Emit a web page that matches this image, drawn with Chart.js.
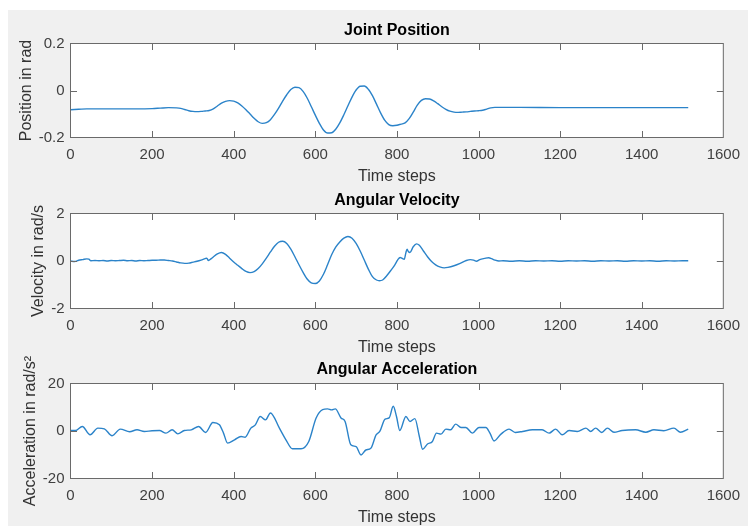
<!DOCTYPE html>
<html lang="en">
<head>
<meta charset="UTF-8">
<title>Joint Position / Angular Velocity / Angular Acceleration</title>
<script src="https://cdn.jsdelivr.net/npm/chart.js"></script>
<style>
  body { margin: 0; background: #fff; width: 748px; height: 526px; position: relative; overflow: hidden; }
  .figure { position: absolute; left: 8px; top: 10px; right: 0; bottom: 0; background: #f0f0f0; }
  canvas { position: absolute; left: 0; top: 0; }
</style>
</head>
<body>
<div class="figure"></div>
<canvas id="posChart" width="748" height="526"></canvas>
<canvas id="velChart" width="748" height="526"></canvas>
<canvas id="accChart" width="748" height="526"></canvas>

<script>
// tick labels
const xTicks = [0, 200, 400, 600, 800, 1000, 1200, 1400, 1600];
const positionTicks = [-0.2, 0, 0.2];
const velocityTicks = [-2, 0, 2];
const accelTicks = [-20, 0, 20];

// joint position (rad)
const positionSteps = [0, 20, 40, 100, 160, 200, 220, 240, 260, 270, 280, 290, 300, 310, 320, 330, 340, 350, 360, 370,
  380, 390, 400, 410, 420, 430, 440, 450, 460, 470, 480, 490, 500, 510, 520, 530, 540, 550, 560, 570,
  580, 590, 600, 610, 620, 630, 640, 650, 660, 670, 680, 690, 700, 710, 720, 730, 740, 750, 760, 770,
  780, 790, 800, 810, 820, 830, 840, 850, 860, 870, 880, 890, 900, 910, 920, 930, 940, 950, 960, 970,
  980, 990, 1000, 1010, 1020, 1030, 1040, 1100, 1200, 1300, 1400, 1514];
const position = [-0.082, -0.080, -0.078, -0.078, -0.078, -0.077, -0.075, -0.073, -0.074, -0.076, -0.081, -0.086, -0.089, -0.090, -0.089, -0.087, -0.085, -0.078, -0.066, -0.054,
  -0.046, -0.043, -0.045, -0.053, -0.066, -0.082, -0.100, -0.118, -0.133, -0.140, -0.137, -0.124, -0.102, -0.075, -0.045, -0.018, 0.004, 0.014, 0.012, -0.004,
  -0.032, -0.068, -0.105, -0.140, -0.168, -0.181, -0.180, -0.165, -0.138, -0.103, -0.065, -0.028, 0.002, 0.018, 0.019, 0.005, -0.022, -0.058, -0.095, -0.126,
  -0.145, -0.150, -0.148, -0.143, -0.138, -0.120, -0.092, -0.062, -0.042, -0.035, -0.036, -0.044, -0.056, -0.069, -0.080, -0.088, -0.092, -0.093, -0.092, -0.091,
  -0.089, -0.087, -0.086, -0.084, -0.079, -0.074, -0.072, -0.072, -0.073, -0.073, -0.073, -0.073];

// angular velocity (rad/s)
const velocitySteps = [0, 10, 20, 30, 40, 45, 50, 60, 70, 80, 90, 100, 110, 120, 130, 140, 150, 160, 170, 180,
  190, 200, 210, 220, 230, 240, 250, 260, 270, 280, 290, 300, 310, 320, 330, 334, 338, 345, 350, 360,
  370, 380, 390, 400, 410, 420, 430, 440, 450, 460, 470, 480, 490, 500, 510, 520, 530, 540, 550, 560,
  570, 580, 590, 600, 610, 620, 630, 640, 650, 660, 670, 680, 690, 700, 710, 720, 730, 740, 750, 757,
  765, 775, 785, 795, 802, 808, 812, 818, 822, 825, 828, 832, 840, 848, 855, 865, 875, 885, 895, 905,
  916, 925, 940, 955, 970, 980, 988, 995, 1003, 1015, 1025, 1032, 1040, 1050, 1060, 1080, 1100, 1120, 1140, 1160,
  1180, 1200, 1220, 1240, 1260, 1280, 1300, 1320, 1340, 1360, 1380, 1400, 1420, 1440, 1460, 1480, 1500, 1514];
const velocity = [0.00, -0.02, 0.03, 0.06, 0.09, 0.08, 0.01, 0.02, 0.01, 0.02, 0.00, 0.02, 0.01, 0.02, 0.03, 0.01, 0.02, 0.00, 0.02, 0.01,
  0.02, 0.03, 0.03, 0.04, 0.04, 0.02, 0.00, -0.04, -0.08, -0.10, -0.09, -0.05, -0.01, 0.04, 0.10, 0.12, 0.02, 0.10, 0.17, 0.30,
  0.36, 0.28, 0.12, -0.04, -0.18, -0.32, -0.44, -0.49, -0.45, -0.32, -0.12, 0.12, 0.38, 0.62, 0.79, 0.83, 0.74, 0.50, 0.18, -0.16,
  -0.48, -0.76, -0.92, -0.95, -0.84, -0.56, -0.16, 0.26, 0.58, 0.80, 0.96, 1.03, 0.96, 0.74, 0.42, 0.04, -0.34, -0.66, -0.80, -0.83,
  -0.80, -0.62, -0.40, -0.16, 0.05, 0.15, 0.12, 0.07, 0.35, 0.50, 0.40, 0.36, 0.60, 0.72, 0.66, 0.42, 0.18, -0.02, -0.16, -0.25,
  -0.29, -0.27, -0.20, -0.10, 0.02, 0.06, 0.04, -0.01, 0.06, 0.11, 0.14, 0.10, 0.04, 0.00, 0.01, -0.01, 0.01, -0.01, 0.01, 0.00,
  0.01, -0.01, 0.01, 0.00, 0.01, -0.01, 0.01, 0.00, 0.01, -0.01, 0.01, 0.00, 0.01, -0.01, 0.01, 0.00, 0.01, 0.01];

// angular acceleration (rad/s^2)
const accelSteps = [0, 12, 29, 48, 67, 83, 102, 122, 145, 163, 181, 200, 218, 234, 249, 263, 279, 296, 314, 331,
  349, 365, 375, 385, 402, 418, 428, 442, 453, 465, 478, 490, 512, 528, 544, 565, 584, 602, 618, 630,
  640, 649, 663, 673, 687, 700, 712, 724, 736, 749, 758, 771, 781, 791, 799, 807, 822, 832, 844, 855,
  863, 875, 887, 897, 908, 920, 932, 944, 957, 969, 985, 1001, 1018, 1028, 1038, 1055, 1075, 1090, 1108, 1132,
  1156, 1173, 1189, 1205, 1222, 1242, 1263, 1275, 1287, 1302, 1316, 1332, 1352, 1385, 1410, 1430, 1454, 1479, 1495, 1514];
const acceleration = [0.2, 0.2, 1.9, -1.6, 1.2, 0.9, -2.0, 0.8, -0.3, 0.5, -0.2, 0.1, 0.2, -0.9, 0.5, -1.2, 0.2, 0.5, 1.9, -0.6,
  3.6, 2.6, -0.9, -5.1, -3.7, -2.3, -2.6, 1.2, 2.6, 6.1, 4.7, 7.6, 1.2, -3.7, -7.5, -7.5, -4.4, 5.5, 9.0, 9.3,
  8.9, 9.3, 5.5, 4.0, -5.8, -6.6, -10.1, -8.0, -7.3, -1.6, -0.2, 5.0, 5.5, 10.4, 6.1, 0.2, 6.1, 4.0, 5.2, -2.3,
  -7.7, -5.5, -4.4, -0.9, -1.3, 0.8, 0.5, 2.9, 1.5, 1.5, -0.9, 1.5, 1.5, -0.9, -4.2, -1.3, 0.8, -0.6, -0.2, 0.5,
  0.5, -0.9, 0.8, -1.6, 0.2, -0.2, 1.2, -0.2, 1.2, -0.6, 1.2, -0.5, 0.2, 0.5, -0.5, 0.5, 0.1, 1.2, -0.5, 0.8];

const FONT = '"Liberation Sans", Arial, Helvetica, sans-serif';
const LINE = '#2b83c9';
const AXIS = '#6a6a6a';

// white plot box, MATLAB style inward ticks on all four sides
const matlabAxes = {
  id: 'matlabAxes',
  beforeDraw(chart) {
    const a = chart.chartArea, ctx = chart.ctx;
    ctx.save();
    ctx.fillStyle = '#fff';
    ctx.fillRect(a.left, a.top, a.right - a.left, a.bottom - a.top);
    ctx.restore();
  },
  afterDraw(chart) {
    const a = chart.chartArea, ctx = chart.ctx;
    const len = 6.5;
    const xs = chart.scales.x, ys = chart.scales.y;
    ctx.save();
    ctx.strokeStyle = AXIS;
    ctx.lineWidth = 1;
    ctx.beginPath();
    xs.ticks.forEach(t => {
      if (t.value === xs.min || t.value === xs.max) return;
      const px = Math.round(xs.getPixelForValue(t.value)) + 0.5;
      ctx.moveTo(px, a.bottom); ctx.lineTo(px, a.bottom - len);
      ctx.moveTo(px, a.top); ctx.lineTo(px, a.top + len);
    });
    ys.ticks.forEach(t => {
      if (t.value === ys.min || t.value === ys.max) return;
      const py = Math.round(ys.getPixelForValue(t.value)) + 0.5;
      ctx.moveTo(a.left, py); ctx.lineTo(a.left + len, py);
      ctx.moveTo(a.right, py); ctx.lineTo(a.right - len, py);
    });
    ctx.stroke();
    ctx.strokeRect(a.left, a.top, a.right - a.left, a.bottom - a.top);
    ctx.restore();
  }
};

function subplot(id, steps, values, yTicks, o) {
  const points = steps.map((s, i) => ({ x: s, y: values[i] }));
  return new Chart(document.getElementById(id), {
    type: 'line',
    data: {
      datasets: [{
        data: points,
        borderColor: LINE,
        borderWidth: 1.4,
        pointRadius: 0,
        fill: false,
        cubicInterpolationMode: 'monotone'
      }]
    },
    options: {
      responsive: false,
      animation: false,
      devicePixelRatio: 1,
      events: [],
      layout: { padding: { left: 0, right: 22.5, top: 0, bottom: 0 } },
      plugins: { legend: { display: false }, tooltip: { enabled: false } },
      scales: {
        x: {
          type: 'linear', position: 'bottom', min: 0, max: 1600,
          afterBuildTicks: s => { s.ticks = xTicks.map(v => ({ value: v })); },
          afterFit: s => { s.height = 526 - o.bottom; },
          grid: { display: false, drawTicks: false },
          border: { display: false },
          ticks: { font: { family: FONT, size: 15 }, color: '#404040', padding: o.xTickPad, maxRotation: 0,
                   callback: v => String(v) },
          title: { display: true, text: 'Time steps', color: '#333', font: { family: FONT, size: 16 },
                   padding: { top: 0, bottom: 526 - o.xLabelY - 9.6 } }
        },
        top: {
          type: 'linear', position: 'top', min: 0, max: 1600,
          afterFit: s => { s.height = o.top; },
          grid: { display: false, drawTicks: false },
          border: { display: false },
          ticks: { display: false },
          title: { display: true, text: o.title, color: '#000', font: { family: FONT, size: 16, weight: 'bold' },
                   padding: { top: o.titleY - 9.6, bottom: 0 } }
        },
        y: {
          type: 'linear', position: 'left', min: yTicks[0], max: yTicks[yTicks.length - 1],
          afterBuildTicks: s => { s.ticks = yTicks.map(v => ({ value: v })); },
          afterFit: s => { s.width = 70.5; },
          grid: { display: false, drawTicks: false },
          border: { display: false },
          ticks: { font: { family: FONT, size: 15 }, color: '#404040', padding: 6, callback: v => String(v) },
          title: { display: true, text: o.yLabel, color: '#333', font: { family: FONT, size: 16 },
                   padding: { top: o.yLabelX - 9.6, bottom: 0 } }
        }
      }
    },
    plugins: [matlabAxes]
  });
}

subplot('posChart', positionSteps, position, positionTicks,
  { title: 'Joint Position', yLabel: 'Position in rad', top: 43.5, bottom: 137.5, titleY: 31, xLabelY: 177, yLabelX: 27, xTickPad: 8 });
subplot('velChart', velocitySteps, velocity, velocityTicks,
  { title: 'Angular Velocity', yLabel: 'Velocity in rad/s', top: 213.5, bottom: 308.5, titleY: 201, xLabelY: 348, yLabelX: 38.5, xTickPad: 8 });
subplot('accChart', accelSteps, acceleration, accelTicks,
  { title: 'Angular Acceleration', yLabel: 'Acceleration in rad/s\u00B2', top: 383.5, bottom: 478.5, titleY: 370, xLabelY: 518, yLabelX: 31, xTickPad: 8 });
</script>
</body>
</html>
